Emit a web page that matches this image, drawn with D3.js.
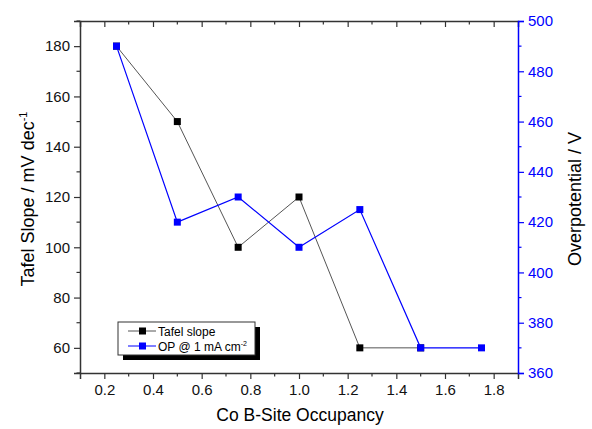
<!DOCTYPE html>
<html>
<head>
<meta charset="utf-8">
<script src="https://cdnjs.cloudflare.com/ajax/libs/d3/7.8.5/d3.min.js"></script>
<style>
  body { margin: 0; background: #fff; }
  text { font-family: Arial, "Liberation Sans", sans-serif; }
</style>
</head>
<body>
<div id="chart"></div>
<script>
var svgWidth = 592;
var svgHeight = 429;

var margin = { top: 21, right: 74, bottom: 56, left: 80 };
var width = svgWidth - margin.left - margin.right;
var height = svgHeight - margin.top - margin.bottom;

// data
var occupancy = [0.25, 0.5, 0.75, 1.0, 1.25, 1.5, 1.75];
var tafelSlope = [180, 150, 100, 120, 60, 60];
var overpotential = [490, 420, 430, 410, 425, 370, 370];
var xTicks = [0.2, 0.4, 0.6, 0.8, 1.0, 1.2, 1.4, 1.6, 1.8];
var leftTicks = [60, 80, 100, 120, 140, 160, 180];
var rightTicks = [360, 380, 400, 420, 440, 460, 480, 500];

var svg = d3.select("#chart")
    .append("svg")
    .attr("width", svgWidth)
    .attr("height", svgHeight);

var chartGroup = svg.append("g")
    .attr("transform", `translate(${margin.left}, ${margin.top})`);

var xScale = d3.scaleLinear().domain([0.1, 1.9]).range([0, width]);
var yLeft = d3.scaleLinear().domain([50, 190]).range([height, 0]);
var yRight = d3.scaleLinear().domain([360, 500]).range([height, 0]);

var axisColor = "#333";
var blue = "#0000ff";

function styleAxis(g, color) {
    g.select(".domain").attr("stroke", color).attr("stroke-width", 1.5);
    g.selectAll(".tick line").attr("stroke", color).attr("stroke-width", 1.2);
    g.selectAll(".tick text").attr("fill", color === axisColor ? "#111" : color)
        .attr("font-size", 15).attr("font-family", "Arial, 'Liberation Sans', sans-serif");
}

// minor ticks
var xMinor = d3.range(0.3, 1.85, 0.2);
var leftMinor = d3.range(50, 191, 20);
var rightMinor = d3.range(370, 500, 20);

// bottom axis
var bottomAxis = chartGroup.append("g")
    .attr("transform", `translate(0, ${height})`)
    .call(d3.axisBottom(xScale).tickValues(xTicks).tickFormat(d3.format(".1f")).tickSizeOuter(0).tickSize(6).tickPadding(5));
styleAxis(bottomAxis, axisColor);
bottomAxis.selectAll(".minor").data(xMinor).enter().append("line")
    .attr("x1", d => xScale(d)).attr("x2", d => xScale(d))
    .attr("y1", 0).attr("y2", 3.5).attr("stroke", axisColor).attr("stroke-width", 1.2);

// top axis (inward ticks, no labels)
var topAxis = chartGroup.append("g")
    .call(d3.axisTop(xScale).tickValues(xTicks).tickFormat("").tickSizeOuter(0).tickSize(-6));
styleAxis(topAxis, axisColor);
topAxis.selectAll(".minor").data(xMinor).enter().append("line")
    .attr("x1", d => xScale(d)).attr("x2", d => xScale(d))
    .attr("y1", 0).attr("y2", 3.5).attr("stroke", axisColor).attr("stroke-width", 1.2);

// left axis
var leftAxis = chartGroup.append("g")
    .call(d3.axisLeft(yLeft).tickValues(leftTicks).tickSizeOuter(0).tickSize(6).tickPadding(4));
styleAxis(leftAxis, axisColor);
leftAxis.selectAll(".minor").data(leftMinor).enter().append("line")
    .attr("y1", d => yLeft(d)).attr("y2", d => yLeft(d))
    .attr("x1", 0).attr("x2", -3.5).attr("stroke", axisColor).attr("stroke-width", 1.2);

// right axis
var rightAxis = chartGroup.append("g")
    .attr("transform", `translate(${width}, 0)`)
    .call(d3.axisRight(yRight).tickValues(rightTicks).tickSizeOuter(0).tickSize(6).tickPadding(4));
styleAxis(rightAxis, blue);
rightAxis.selectAll(".minor").data(rightMinor).enter().append("line")
    .attr("y1", d => yRight(d)).attr("y2", d => yRight(d))
    .attr("x1", 0).attr("x2", 3.5).attr("stroke", blue).attr("stroke-width", 1.2);

// Tafel series
var tafelData = tafelSlope.map((v, i) => ({ x: occupancy[i], y: v }));
chartGroup.append("path")
    .datum(tafelData)
    .attr("fill", "none")
    .attr("stroke", "#555")
    .attr("stroke-width", 1)
    .attr("d", d3.line().x(d => xScale(d.x)).y(d => yLeft(d.y)));
chartGroup.selectAll(".tafel").data(tafelData).enter().append("rect")
    .attr("x", d => xScale(d.x) - 3.5).attr("y", d => yLeft(d.y) - 3.5)
    .attr("width", 7).attr("height", 7).attr("fill", "#000");

// OP series
var opData = overpotential.map((v, i) => ({ x: occupancy[i], y: v }));
chartGroup.append("path")
    .datum(opData)
    .attr("fill", "none")
    .attr("stroke", blue)
    .attr("stroke-width", 1.2)
    .attr("d", d3.line().x(d => xScale(d.x)).y(d => yRight(d.y)));
chartGroup.selectAll(".op").data(opData).enter().append("rect")
    .attr("x", d => xScale(d.x) - 3.5).attr("y", d => yRight(d.y) - 3.5)
    .attr("width", 7).attr("height", 7).attr("fill", blue);

// legend
var lg = svg.append("g").attr("transform", "translate(118, 322)");
lg.append("rect").attr("x", 5).attr("y", 5).attr("width", 137).attr("height", 33).attr("fill", "#000");
lg.append("rect").attr("x", 0).attr("y", 0).attr("width", 137).attr("height", 33)
    .attr("fill", "#fff").attr("stroke", "#333").attr("stroke-width", 1);
var legendItems = [
    { label: "Tafel slope", line: "#555", mark: "#000" },
    { label: "OP @ 1 mA cm", line: blue, mark: blue, sup: "-2" }
];
legendItems.forEach(function (item, i) {
    var yy = 9 + i * 15;
    lg.append("line").attr("x1", 10).attr("x2", 38).attr("y1", yy).attr("y2", yy)
        .attr("stroke", item.line).attr("stroke-width", 1);
    lg.append("rect").attr("x", 21).attr("y", yy - 3.5).attr("width", 7).attr("height", 7).attr("fill", item.mark);
    var t = lg.append("text").attr("x", 40).attr("y", yy + 4.5).attr("font-size", 12).attr("fill", "#000")
        .text(item.label);
    if (item.sup) {
        t.append("tspan").attr("dy", -5).attr("font-size", 7).text(item.sup);
    }
});

// axis titles
svg.append("text")
    .attr("x", 300).attr("y", 421)
    .attr("text-anchor", "middle").attr("font-size", 17.5)
    .text("Co B-Site Occupancy");

var yt = svg.append("text")
    .attr("transform", "translate(34, 199) rotate(-90)")
    .attr("text-anchor", "middle").attr("font-size", 18)
    .text("Tafel Slope / mV dec");
yt.append("tspan").attr("dy", -7).attr("font-size", 11).text("-1");

svg.append("text")
    .attr("transform", `translate(581, ${margin.top + height / 2 + 2}) rotate(-90)`)
    .attr("text-anchor", "middle").attr("font-size", 18)
    .text("Overpotential / V");
</script>
</body>
</html>
